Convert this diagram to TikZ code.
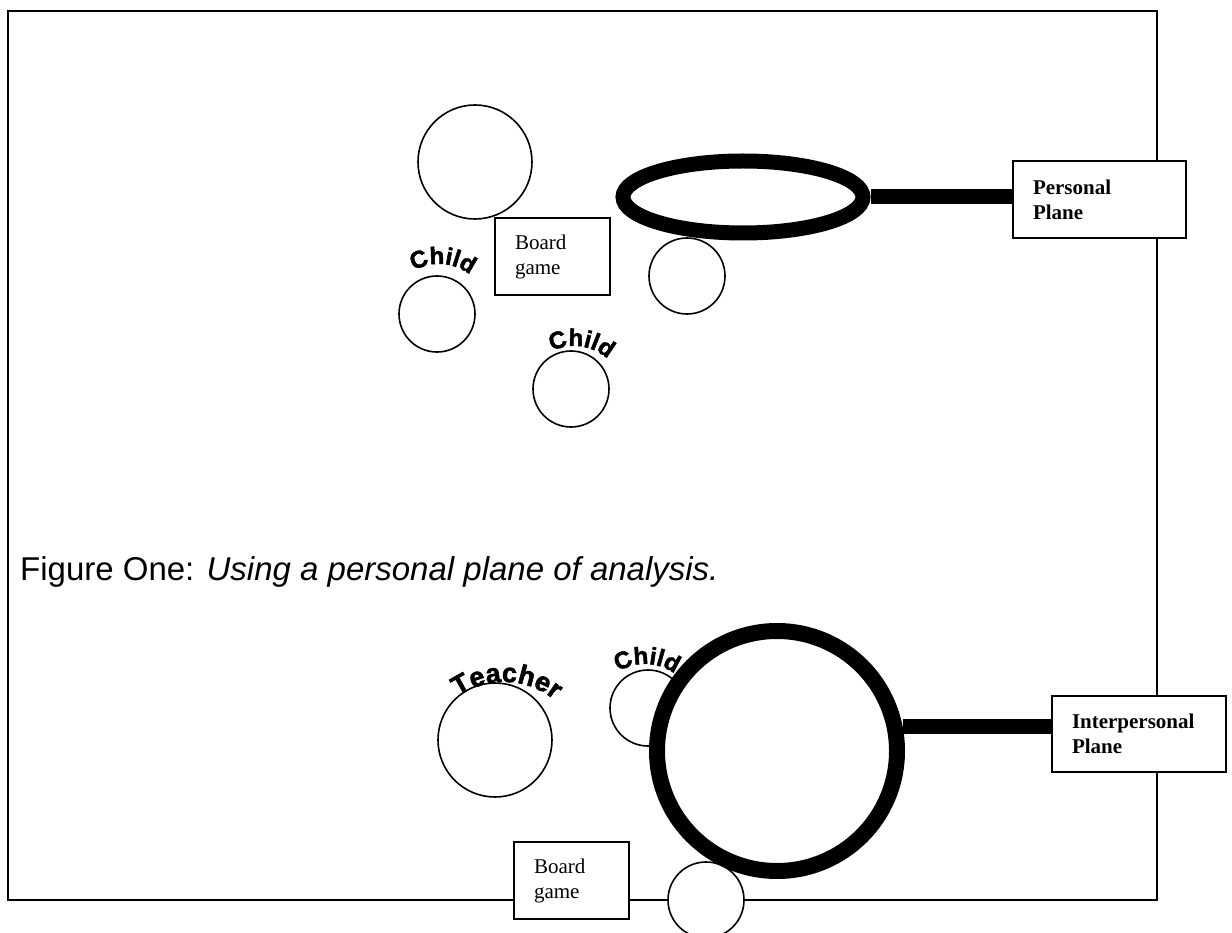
\documentclass[tikz,border=0pt]{standalone}
\usepackage{fontspec}
\setmainfont{Liberation Serif}
\newfontfamily\capfont{Liberation Sans}
\newfontfamily\artfont{Liberation Sans}[BoldFeatures={FakeBold=2}]
\usetikzlibrary{shapes.geometric,decorations.text,calc}
\tikzset{
  x=1pt,y=1pt,
  frameline/.style={line width=2pt},
  circ/.style={circle,draw,line width=1.6pt,fill=white,inner sep=0pt,minimum size=#1},
  boxnode/.style={rectangle,draw,line width=1.8pt,fill=white,inner sep=0pt,
     align=left,font=\fontsize{21}{25}\selectfont},
  thickring/.style={draw,line width=#1,fill=white,inner sep=0pt},
  thickline/.style={line width=15pt},
}
\newcommand{\archtext}[6]{% center x, center y (img), radius, mid angle, size, text
  \path[decorate,decoration={text along path,text align=center,
     text={|\artfont\bfseries\fontsize{#5}{#5}\selectfont|#6}}]
     ($(#1,-#2)+({#4+75}:#3)$) arc[start angle={#4+75},end angle={#4-75},radius=#3];}
\begin{document}
\begin{tikzpicture}
\useasboundingbox (0,0) rectangle (1232,-933);
% outer frame
\draw[frameline] (8,-11) rectangle (1157,-900);

% ---------- top part ----------
\node[circ=114pt] (bigtop) at (475,-162) {};
\node[circ=76pt] (c1) at (687,-276) {};
\node[circ=76pt] (childA) at (437,-314) {};
\node[circ=76pt] (childB) at (571,-389) {};
\node[boxnode,minimum width=115pt,minimum height=77pt,text width=75pt] (bg1) at (552.5,-256.5) {Board\\game};
\node[boxnode,minimum width=173pt,minimum height=77pt,text width=133pt] (pbox) at (1099.5,-199.5) {\textbf{Personal}\\\textbf{Plane}};
\node[thickring=15pt,ellipse,minimum width=240pt,minimum height=72pt] (ell) at (743,-197) {};
\draw[thickline] (ell.east) -- (ell.east -| pbox.west);

\archtext{439}{314}{50}{86}{24}{Child}
\archtext{574}{396}{50}{82}{24}{Child}

% caption
\node[anchor=base west,inner sep=0pt,font=\capfont\fontsize{33}{36}\selectfont] (caption) at (20,-580)
  {Figure One: \textit{Using a personal plane of analysis.}};

% ---------- bottom part ----------
\node[circ=114pt] (teacher) at (495,-740) {};
\node[circ=76pt] (childC) at (648,-708) {};
\node[boxnode,minimum width=115pt,minimum height=77pt,text width=75pt] (bg2) at (571.5,-880.5) {Board\\game};
\node[circ=76pt] (c2) at (706,-900) {};
\node[boxnode,minimum width=174pt,minimum height=76pt,text width=134pt] (ibox) at (1139,-734) {\textbf{Interpersonal}\\\textbf{Plane}};
\node[thickring=16pt,circle,minimum size=240pt] (ring) at (777,-751) {};
\draw[thickline] (ring.11) -- (ring.11 -| ibox.west);

\archtext{504}{762}{80}{88}{27}{Teacher}
\archtext{645}{714}{50}{88}{24}{Child}
\end{tikzpicture}
\end{document}
